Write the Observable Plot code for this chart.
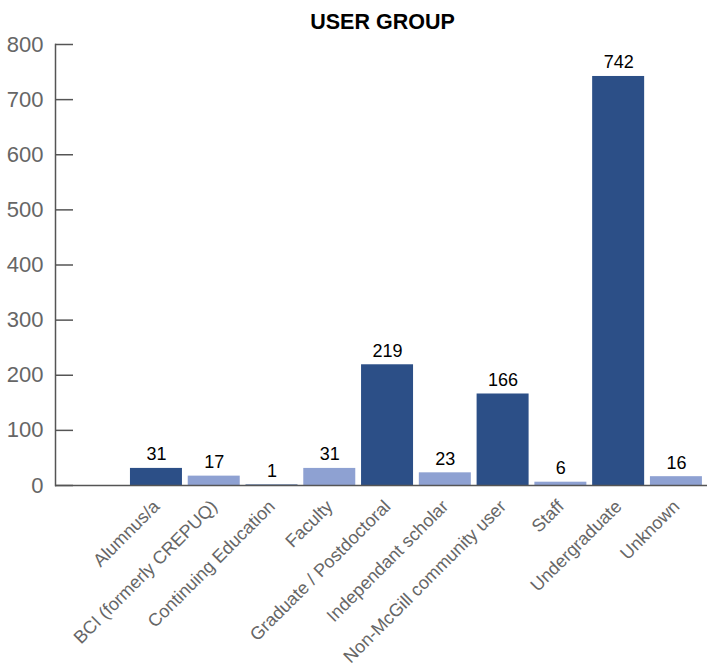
<!DOCTYPE html>
<html>
<head>
<meta charset="utf-8">
<script src="https://cdn.jsdelivr.net/npm/d3@7"></script>
<script src="https://cdn.jsdelivr.net/npm/@observablehq/plot@0.6"></script>
<style>
  body { margin: 0; background: #fff; font-family: "Liberation Sans", Arial, sans-serif; }
  #wrap { position: relative; width: 707px; height: 667px; }
  #title { position: absolute; left: 0; top: 9px; width: 707px; box-sizing: border-box; line-height: 26px; padding-left: 58px; text-align: center; font-size: 21.5px; font-weight: bold; color: #000; }
</style>
</head>
<body>
<div id="wrap">
<div id="chart"></div>
<div id="title">USER GROUP</div>
</div>
<script>
const categories = ["Alumnus/a", "BCI (formerly CREPUQ)", "Continuing Education", "Faculty", "Graduate / Postdoctoral", "Independant scholar", "Non-McGill community user", "Staff", "Undergraduate", "Unknown"];
const values = [31, 17, 1, 31, 219, 23, 166, 6, 742, 16];
const barColors = ["#2c4f87", "#8ea1d2"];
const yTicks = [0, 100, 200, 300, 400, 500, 600, 700, 800];

const data = categories.map((c, i) => ({category: c, value: values[i], color: barColors[i % 2]}));

const W = 707, H = 667, ML = 55;
const chart = Plot.plot({
  width: W,
  height: H,
  marginLeft: ML,
  marginRight: 0,
  marginTop: 44,
  marginBottom: 182,
  style: {fontFamily: "Liberation Sans, Arial, sans-serif", background: "#fff"},
  x: {domain: [""].concat(categories), range: [66.4, 707.7], padding: 0.1, round: false, label: null},
  y: {domain: [0, 800], label: null},
  marks: [
    Plot.barY(data, {x: "category", y: "value", fill: "color"}),
    Plot.text(data, {x: "category", y: "value", text: d => String(d.value), dy: -8, lineAnchor: "bottom", fontSize: 18, fill: "#000"}),
    Plot.ruleY(yTicks, {y: d => d, stroke: "#555", strokeWidth: 1.5, insetRight: (W - ML) - 18}),
    Plot.ruleY([0], {stroke: "#555", strokeWidth: 1.5}),
    Plot.frame({anchor: "left", stroke: "#555", strokeWidth: 1.5}),
    Plot.axisY({ticks: yTicks, tickSize: 0, tickPadding: 12, fontSize: 22, fill: "#666", tickFormat: d => String(d)}),
    Plot.axisX({tickSize: 0, tickPadding: 18, tickRotate: -45, fontSize: 18, fill: "#666"})
  ]
});
document.getElementById("chart").appendChild(chart);
</script>
</body>
</html>
